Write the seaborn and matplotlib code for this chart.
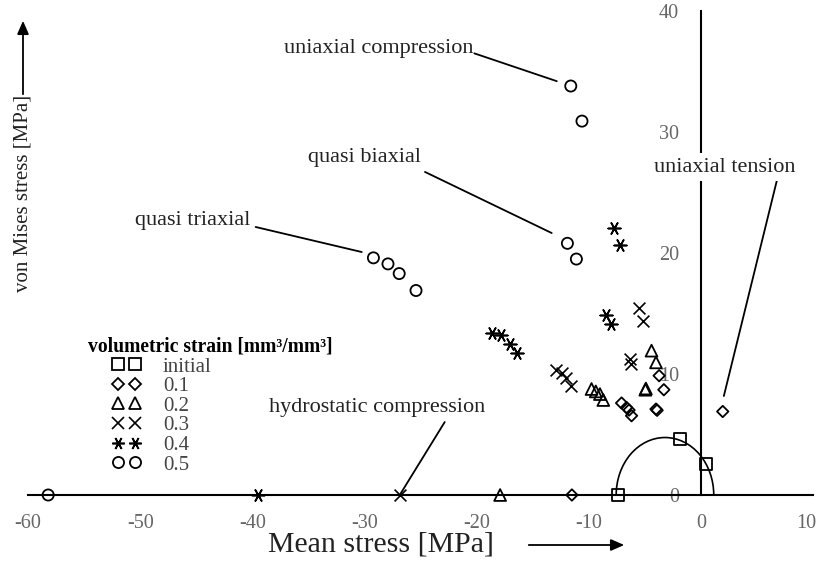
import matplotlib
matplotlib.use("Agg")
import matplotlib.pyplot as plt
import matplotlib.transforms as mtransforms
import seaborn as sns
from matplotlib.lines import Line2D
from matplotlib.patches import Arc, FancyArrowPatch

# ---------------- data (mean stress [MPa], von Mises stress [MPa]) -------------
labels = ["initial", "0.1", "0.2", "0.3", "0.4", "0.5"]

mean_initial = [-7.4, -1.85, 0.45]
mises_initial = [0.0, 4.6, 2.55]

mean_01 = [-11.5, -7.07, -6.63, -6.4, -6.18, -4.0, -3.9, -3.72, -3.3, 1.95]
mises_01 = [0.0, 7.6, 7.23, 7.02, 6.55, 7.1, 7.0, 9.86, 8.7, 6.9]

mean_02 = [-17.9, -9.75, -9.37, -9.0, -8.7, -4.95, -4.9, -4.4, -4.0]
mises_02 = [0.0, 8.76, 8.56, 8.34, 7.85, 8.7, 8.8, 11.93, 10.96]

mean_03 = [-26.8, -12.9, -12.4, -12.0, -11.6, -6.3, -6.2, -5.5, -5.15]
mises_03 = [0.0, 10.3, 10.1, 9.7, 9.0, 11.2, 10.8, 15.45, 14.4]

mean_04 = [-39.5, -18.6, -17.8, -17.0, -16.4, -8.5, -8.0, -7.75, -7.2]
mises_04 = [0.0, 13.4, 13.2, 12.5, 11.7, 14.9, 14.1, 22.1, 20.7]

mean_05 = [-58.2, -29.2, -27.9, -26.9, -25.4, -11.9, -11.1, -11.6, -10.6]
mises_05 = [0.0, 19.6, 19.1, 18.3, 16.9, 20.8, 19.5, 33.8, 30.9]

# initial yield surface (elliptic cap)
cap_center = -3.2
cap_half_width = 4.35
cap_height = 4.75

x_ticks = [-60, -50, -40, -30, -20, -10, 0, 10]
y_ticks = [0, 10, 20, 30, 40]

# ---------------- style ----------------
sns.set_style("white")
plt.rcParams["font.family"] = ["Liberation Serif", "DejaVu Serif"]

fig = plt.figure(figsize=(8.2, 5.63), dpi=100)
ax = fig.add_axes([28 / 820, 68 / 563, 785 / 820, 484 / 563])

series = [
    (mean_initial, mises_initial, "s", 8.5, True),
    (mean_01, mises_01, "D", 5.8, True),
    (mean_02, mises_02, "^", 8.5, True),
    (mean_03, mises_03, "x", 8.5, False),
    (mean_04, mises_04, (6, 2, 90), 9.0, False),
    (mean_05, mises_05, "o", 8.0, True),
]

handles = []
for (xs, ys, mk, ms, filled), lab in zip(series, labels):
    if filled:
        sns.scatterplot(x=xs, y=ys, marker=mk, s=ms ** 2, facecolor="none",
                        edgecolor="black", linewidth=1.3, clip_on=False,
                        zorder=4, ax=ax, legend=False)
    else:
        sns.scatterplot(x=xs, y=ys, marker=mk, s=ms ** 2, color="black",
                        linewidth=1.2, clip_on=False, zorder=4, ax=ax,
                        legend=False)
    handles.append(Line2D([], [], ls="", marker=mk, ms=ms, mfc="none",
                          mec="black", mew=1.3 if filled else 1.2, label=lab))

ax.add_patch(Arc((cap_center, 0), 2 * cap_half_width, 2 * cap_height,
                 theta1=0, theta2=180, color="black", lw=1.2, zorder=3))

ax.set_xlim(-60, 10)
ax.set_ylim(0, 40)

for s in ["top", "right"]:
    ax.spines[s].set_visible(False)
ax.spines["left"].set_position(("data", 0))
ax.spines["bottom"].set_position(("data", 0))
ax.spines["left"].set_bounds(0, 40)
for s in ["left", "bottom"]:
    ax.spines[s].set_linewidth(1.5)
    ax.spines[s].set_color("black")

ax.set_xticks(x_ticks)
ax.set_xticks([t + 5 for t in x_ticks[:-1]], minor=True)
ax.set_yticks(y_ticks)
ax.set_yticks([t + 5 for t in y_ticks[:-1]], minor=True)
ax.set_xticklabels([str(t) for t in x_ticks])
ax.set_yticklabels([str(t) for t in y_ticks])
ax.tick_params(which="both", direction="inout", color="black", width=1.4,
               labelsize=14.5, labelcolor="#666666")
ax.tick_params(which="major", length=13.5)
ax.tick_params(which="minor", length=7)
ax.tick_params(axis="x", which="major", pad=7)
ax.tick_params(axis="y", which="major", pad=9)
ax.patch.set_alpha(0)

# keep the last x tick label inside the figure
last_lbl = ax.get_xticklabels()[-1]
last_lbl.set_transform(last_lbl.get_transform() +
                       mtransforms.ScaledTranslation(-7 / 100, 0, fig.dpi_scale_trans))

# axis labels with arrows
ax.set_xlabel("Mean stress [MPa]", fontsize=21.5, color="#222222", va="center")
ax.xaxis.set_label_coords((381 - 28) / 785, (495 - 545) / 484)
ax.set_ylabel("von Mises stress [MPa]", fontsize=15, color="#222222", va="center")
ax.yaxis.set_label_coords((23 - 28) / 785, (495 - 193) / 484)

fig.add_artist(FancyArrowPatch(
    (526 / 820, 18 / 563), (627 / 820, 18 / 563), transform=fig.transFigure,
    arrowstyle="-|>,head_length=8,head_width=3.5", mutation_scale=1,
    color="black", lw=1.3))
fig.add_artist(FancyArrowPatch(
    (23 / 820, 466 / 563), (23 / 820, 545 / 563), transform=fig.transFigure,
    arrowstyle="-|>,head_length=8,head_width=3.5", mutation_scale=1,
    color="black", lw=1.3))

# annotations
ann_kw = dict(fontsize=16, color="#222222", ha="center", va="center")
line_kw = dict(arrowstyle="-", lw=1.3, color="black", shrinkA=0, shrinkB=0)
notes = [
    ("uniaxial compression", (-28.7, 36.9), (-20.2, 36.5), (-12.85, 34.2)),
    ("quasi biaxial", (-30.0, 27.9), (-24.6, 26.7), (-13.3, 21.65)),
    ("quasi triaxial", (-45.3, 22.7), (-39.7, 22.15), (-30.24, 20.08)),
    ("hydrostatic compression", (-28.9, 7.27), (-22.84, 6.03), (-26.85, 0.0)),
    ("uniaxial tension", (2.14, 27.1), (6.78, 26.0), (2.05, 8.18)),
]
for txt, tpos, lstart, lend in notes:
    t = ax.text(*tpos, txt, zorder=6, **ann_kw)
    if txt == "uniaxial tension":
        t.set_bbox(dict(facecolor="white", edgecolor="none", pad=3))
    ax.annotate("", xy=lend, xytext=lstart, arrowprops=line_kw,
                annotation_clip=False, zorder=5)

# legend
ax.text((88 - 28) / 785, (495 - 347) / 484, "volumetric strain [mm³/mm³]",
        transform=ax.transAxes, fontsize=14.1, fontweight="bold",
        ha="left", va="center", color="black")
leg = ax.legend(handles=handles, loc="upper left",
                bbox_to_anchor=((112 - 28) / 785, (495 - 357) / 484),
                frameon=False, numpoints=2, handlelength=1.4,
                handletextpad=1.05, labelspacing=0.0, borderpad=0,
                borderaxespad=0, fontsize=15, labelcolor="#444444")

fig.savefig("out.png", dpi=100)
